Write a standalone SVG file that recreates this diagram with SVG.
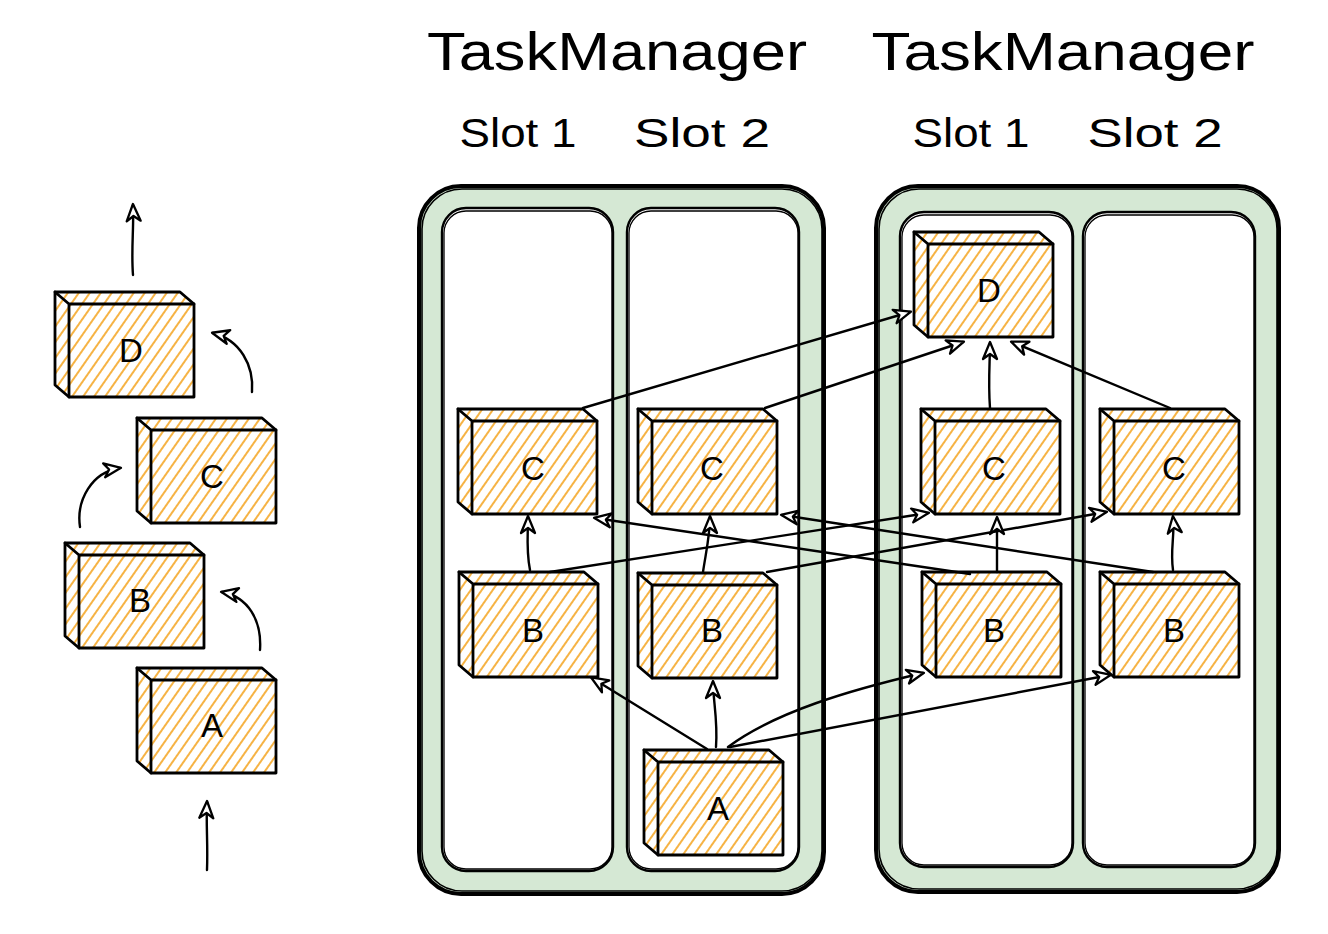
<svg xmlns="http://www.w3.org/2000/svg" xmlns:xlink="http://www.w3.org/1999/xlink" width="1328" height="934" viewBox="0 0 1328 934">
<style>
.title{font-family:"Liberation Sans","DejaVu Sans",sans-serif;font-size:54px;fill:#000;text-anchor:middle}
.slot-label{font-family:"Liberation Sans","DejaVu Sans",sans-serif;font-size:40px;fill:#000;text-anchor:middle}
.lbl{font-family:"Liberation Sans","DejaVu Sans",sans-serif;font-size:33px;fill:#000;text-anchor:middle}
.tm{fill:#d5e8d4;stroke:#000;stroke-width:4}
.tm2{fill:none;stroke:#000;stroke-width:1.6}
.slot{fill:#fff;stroke:#000;stroke-width:2.4}
.slot2{fill:none;stroke:#000;stroke-width:1.3}
.conn{fill:none;stroke:#000;stroke-width:2.4;stroke-linecap:round;marker-end:url(#ah)}
</style>
<defs>
<pattern id="hatch" patternUnits="userSpaceOnUse" width="9" height="9" patternTransform="rotate(35)">
<rect width="9" height="9" fill="#fff"/>
<line x1="2" y1="0" x2="2" y2="9" stroke="#f5a623" stroke-width="1.7"/>
</pattern>
<marker id="ah" markerUnits="userSpaceOnUse" markerWidth="22" markerHeight="18" refX="17" refY="8" orient="auto" overflow="visible">
<path d="M1,1 L18,8 L1,15 L6,8 Z" fill="#fff" stroke="#000" stroke-width="2.3" stroke-linejoin="round"/>
</marker>
<g id="cube">
<polygon points="0,0 125,0 139,12 139,105 14,105 0,93" fill="url(#hatch)" stroke="#000" stroke-width="2.8" stroke-linejoin="round"/>
<path d="M14,12 H139 M14,12 V105 M0,0 L14,12" fill="none" stroke="#000" stroke-width="2.8" stroke-linecap="round"/>
</g>
</defs>
<rect width="1328" height="934" fill="#fff"/>

<g id="tm1">
<rect class="tm" x="419" y="186" width="405" height="708" rx="42"/>
<rect class="tm2" x="422" y="189" width="400" height="702" rx="40"/>
<text class="title" x="617" y="70" textLength="380" lengthAdjust="spacingAndGlyphs">TaskManager</text>
</g>
<g id="tm1-slot1">
<rect class="slot" x="442" y="208" width="171" height="663" rx="24"/>
<rect class="slot2" x="444" y="211" width="168" height="658" rx="22"/>
<text class="slot-label" x="518" y="147" textLength="117" lengthAdjust="spacingAndGlyphs">Slot 1</text>
</g>
<g id="tm1-slot2">
<rect class="slot" x="627" y="208" width="172" height="663" rx="24"/>
<rect class="slot2" x="629" y="211" width="169" height="658" rx="22"/>
<text class="slot-label" x="702" y="147" textLength="136" lengthAdjust="spacingAndGlyphs">Slot 2</text>
</g>

<g id="tm2">
<rect class="tm" x="876" y="186" width="403" height="706" rx="42"/>
<rect class="tm2" x="879" y="189" width="398" height="700" rx="40"/>
<text class="title" x="1063" y="70" textLength="383" lengthAdjust="spacingAndGlyphs">TaskManager</text>
</g>
<g id="tm2-slot1">
<rect class="slot" x="900" y="212" width="173" height="655" rx="24"/>
<rect class="slot2" x="902" y="215" width="170" height="650" rx="22"/>
<text class="slot-label" x="971" y="147" textLength="117" lengthAdjust="spacingAndGlyphs">Slot 1</text>
</g>
<g id="tm2-slot2">
<rect class="slot" x="1083" y="212" width="172" height="655" rx="24"/>
<rect class="slot2" x="1085" y="215" width="169" height="650" rx="22"/>
<text class="slot-label" x="1155" y="147" textLength="135" lengthAdjust="spacingAndGlyphs">Slot 2</text>
</g>

<g id="chain-d"><use xlink:href="#cube" x="55" y="292"/><text class="lbl" x="131" y="362">D</text></g>
<g id="chain-c"><use xlink:href="#cube" x="137" y="418"/><text class="lbl" x="212" y="488">C</text></g>
<g id="chain-b"><use xlink:href="#cube" x="65" y="543"/><text class="lbl" x="140" y="612">B</text></g>
<g id="chain-a"><use xlink:href="#cube" x="137" y="668"/><text class="lbl" x="212" y="737">A</text></g>

<g id="tm1-c1"><use xlink:href="#cube" x="458" y="409"/><text class="lbl" x="533" y="480">C</text></g>
<g id="tm1-c2"><use xlink:href="#cube" x="638" y="409"/><text class="lbl" x="712" y="480">C</text></g>
<g id="tm1-b1"><use xlink:href="#cube" x="459" y="572"/><text class="lbl" x="533" y="642">B</text></g>
<g id="tm1-b2"><use xlink:href="#cube" x="638" y="573"/><text class="lbl" x="712" y="642">B</text></g>
<g id="tm1-a"><use xlink:href="#cube" x="644" y="750"/><text class="lbl" x="718" y="820">A</text></g>

<g id="tm2-d"><use xlink:href="#cube" x="914" y="232"/><text class="lbl" x="989" y="302">D</text></g>
<g id="tm2-c1"><use xlink:href="#cube" x="921" y="409"/><text class="lbl" x="994" y="480">C</text></g>
<g id="tm2-c2"><use xlink:href="#cube" x="1100" y="409"/><text class="lbl" x="1174" y="480">C</text></g>
<g id="tm2-b1"><use xlink:href="#cube" x="922" y="572"/><text class="lbl" x="994" y="642">B</text></g>
<g id="tm2-b2"><use xlink:href="#cube" x="1100" y="572"/><text class="lbl" x="1174" y="642">B</text></g>

<g id="connectors">
<path class="conn" d="M207,870 C208,845 206,825 207,802"/>
<path class="conn" d="M260,650 C262,620 248,597 222,592"/>
<path class="conn" d="M80,527 C76,500 92,472 120,468"/>
<path class="conn" d="M252,392 C254,365 240,340 213,333"/>
<path class="conn" d="M133,275 C131,250 134,228 133,205"/>

<path class="conn" d="M707,749 L592,678"/>
<path class="conn" d="M716,747 C718,720 713,700 713,682"/>
<path class="conn" d="M728,747 C775,712 850,690 923,673"/>
<path class="conn" d="M730,747 L1110,675"/>
<path class="conn" d="M530,570 C526,550 528,535 528,517"/>
<path class="conn" d="M703,572 C706,552 710,535 710,517"/>
<path class="conn" d="M550,572 L928,513"/>
<path class="conn" d="M767,572 L1106,512"/>
<path class="conn" d="M970,574 L595,518"/>
<path class="conn" d="M1153,572 L782,515"/>
<path class="conn" d="M583,408 L910,312"/>
<path class="conn" d="M765,408 L963,342"/>
<path class="conn" d="M990,408 C988,382 990,362 990,343"/>
<path class="conn" d="M1170,408 L1012,342"/>
<path class="conn" d="M997,572 L997,518"/>
<path class="conn" d="M1173,570 C1170,550 1175,535 1173,517"/>
</g>
</svg>
